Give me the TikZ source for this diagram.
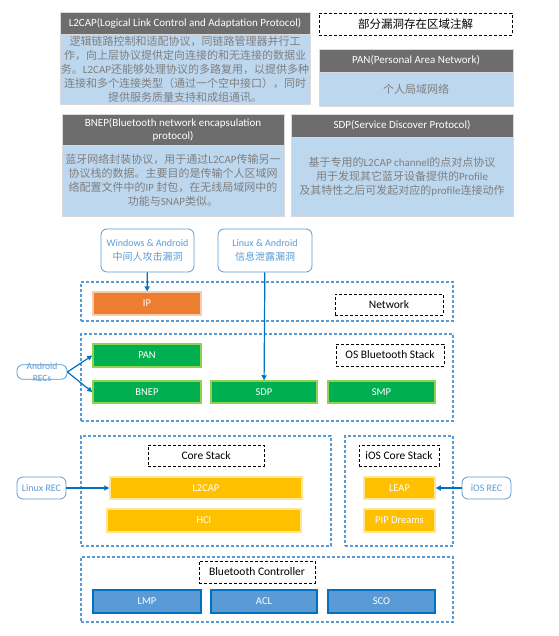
\documentclass[tikz,border=0pt]{standalone}
\usepackage{fontspec}
\setmainfont{Carlito}
\newfontfamily\cjk{Noto Sans CJK SC}
\usepackage{tikz}
\usetikzlibrary{arrows.meta}
\definecolor{hdrgray}{HTML}{6D6D6D}
\definecolor{bodyblue}{HTML}{BDD7EE}
\definecolor{txtgray}{HTML}{7F7F7F}
\definecolor{msblue}{HTML}{5B9BD5}
\definecolor{dkblue}{HTML}{0070C0}
\definecolor{msorange}{HTML}{ED7D31}
\definecolor{ltorange}{HTML}{F8CBAD}
\definecolor{msgreen}{HTML}{00B050}
\definecolor{ltgreen}{HTML}{92D050}
\definecolor{msyellow}{HTML}{FFC000}
\definecolor{ltyellow}{HTML}{FFE699}
\newcommand{\entxt}[1]{{\normalfont #1}}
\newcommand{\blk}[7]{\node[#1, minimum width=#5pt, minimum height=#6pt] (#2) at (#3,#4) {#7};}

\begin{document}
\begin{tikzpicture}[x=1pt, y=-1pt,
    hdr/.style={fill=hdrgray, draw=white!85!black, text=white, inner sep=1pt, align=center,
        font=\fontsize{11}{13}\selectfont},
    body/.style={fill=bodyblue, draw=white!85!black, text=txtgray, inner sep=1pt, align=center,
        font=\fontsize{11}{14}\selectfont\cjk},
    note/.style={draw=black, densely dashed, thick, fill=white, inner sep=1pt,
        font=\fontsize{11.5}{13}\selectfont},
    grp/.style={draw=msblue, dash pattern=on 3pt off 2pt, line width=1.1pt},
    callout/.style={draw=msblue, rounded corners=6pt, fill=white, text=msblue, align=center,
        line width=0.8pt, inner sep=1pt, font=\fontsize{10}{14}\selectfont},
    ipbox/.style={fill=msorange, draw=ltorange, line width=1.2pt, text=white,
        font=\fontsize{10.5}{12}\selectfont},
    grnbox/.style={fill=msgreen, draw=ltgreen, line width=1.5pt, text=white,
        font=\fontsize{10.5}{12}\selectfont},
    ylwbox/.style={fill=msyellow, draw=ltyellow, line width=1.5pt, text=white,
        font=\fontsize{10.5}{12}\selectfont},
    bluebox/.style={fill=msblue, draw=dkblue, line width=1.5pt, text=white,
        font=\fontsize{10.5}{12}\selectfont},
    link/.style={draw=dkblue, line width=1.2pt, -{Triangle[length=5pt,width=5pt]}}]
    \useasboundingbox (0,0) rectangle (558,636);

    % info boxes
    \blk{hdr}{l2hdr}{185}{23}{250}{22}{L2CAP(Logical Link Control and Adaptation Protocol)}
    \blk{body}{l2body}{185}{69}{250}{70}{逻辑链路控制和适配协议，同链路管理器并行工\\
        作，向上层协议提供定向连接的和无连接的数据业\\
        务。\entxt{L2CAP}还能够处理协议的多路复用，以提供多种\\
        连接和多个连接类型（通过一个空中接口），同时\\
        提供服务质量支持和成组通讯。}
    \blk{note}{legend}{415.5}{24}{193}{22}{\cjk 部分漏洞存在区域注解}
    \blk{hdr}{panhdr}{416}{60.5}{194}{23}{PAN(Personal Area Network)}
    \blk{body}{panbody}{416}{89}{194}{34}{个人局域网络}
    \blk{hdr}{bnephdr}{173}{129.5}{222}{31}{BNEP(Bluetooth network encapsulation\\protocol)}
    \blk{body}{bnepbody}{173}{180.5}{222}{71}{蓝牙网络封装协议，用于通过\entxt{L2CAP}传输另一\\
        协议栈的数据。主要目的是传输个人区域网\\
        络配置文件中的\entxt{IP} 封包，在无线局域网中的\\
        功能与\entxt{SNAP}类似。}
    \blk{hdr}{sdphdr}{402}{125.5}{222}{23}{SDP(Service Discover Protocol)}
    \blk{body}{sdpbody}{402}{176.5}{222}{79}{基于专用的\entxt{L2CAP channel}的点对点协议\\
        用于发现其它蓝牙设备提供的\entxt{Profile}\\
        及其特性之后可发起对应的\entxt{profile}连接动作}

    % groups
    \blk{grp}{netgrp}{267}{301.5}{372}{39}{}
    \blk{grp}{osgrp}{267}{377.5}{372}{87}{}
    \blk{grp}{coregrp}{206}{491}{250}{110}{}
    \blk{grp}{iosgrp}{399}{491}{108}{110}{}
    \blk{grp}{ctlgrp}{267}{589.5}{372}{65}{}

    % group labels
    \blk{note}{netlbl}{389}{304.5}{108}{21}{Network}
    \blk{note}{oslbl}{390}{355}{108}{22}{OS Bluetooth Stack}
    \blk{note}{corelbl}{206}{455.5}{116}{21}{Core Stack}
    \blk{note}{ioslbl}{399}{455.5}{80}{21}{iOS Core Stack}
    \blk{note}{ctllbl}{257}{572}{116}{22}{Bluetooth Controller}

    % layers
    \blk{ipbox}{ip}{147}{303.5}{108}{23}{IP}
    \blk{grnbox}{pan}{147}{355.5}{108}{23}{PAN}
    \blk{grnbox}{bnep}{147}{392}{108}{22}{BNEP}
    \blk{grnbox}{sdp}{264}{392}{106}{22}{SDP}
    \blk{grnbox}{smp}{381.5}{392}{107}{22}{SMP}
    \blk{ylwbox}{l2cap}{206}{488}{192}{22}{L2CAP}
    \blk{ylwbox}{hci}{204}{520.5}{194}{23}{HCI}
    \blk{ylwbox}{leap}{399.5}{488}{71}{22}{LEAP}
    \blk{ylwbox}{pip}{399.5}{520.5}{71}{23}{PIP Dreams}
    \blk{bluebox}{lmp}{147}{601.5}{108}{23}{LMP}
    \blk{bluebox}{acl}{264}{601.5}{106}{23}{ACL}
    \blk{bluebox}{sco}{381.5}{601.5}{107}{23}{SCO}

    % callouts
    \blk{callout}{winvul}{147.5}{250.5}{93}{43}{Windows \& Android\\{\cjk 中间人攻击漏洞}}
    \blk{callout}{linvul}{265}{250.5}{94}{43}{Linux \& Android\\{\cjk 信息泄露漏洞}}
    \node[callout, minimum width=50pt, inner ysep=-2pt, font=\fontsize{9.5}{12}\selectfont]
        (andrec) at (42,372) {Android\\RECs};
    \blk{callout}{linrec}{41.5}{488}{49}{22}{Linux REC}
    \blk{callout}{iosrec}{486.5}{488}{49}{22}{iOS REC}

    \draw[link] (winvul) -- (ip);
    \draw[link] (linvul) -- (sdp);
    \draw[link] (andrec.east) -- (pan.west);
    \draw[link] (andrec.east) -- (bnep.west);
    \draw[link] (linrec) -- (l2cap);
    \draw[link] (iosrec) -- (leap);
\end{tikzpicture}
\end{document}
